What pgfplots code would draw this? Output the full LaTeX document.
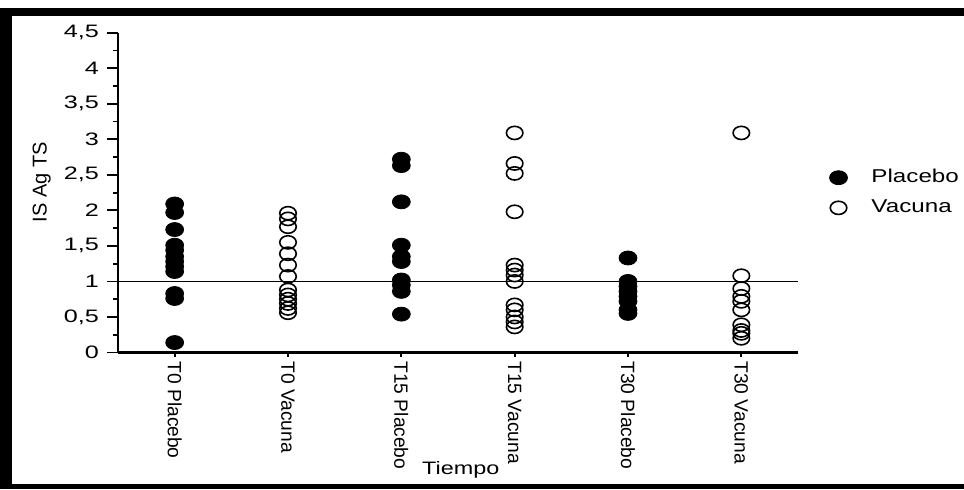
\documentclass[border=0pt]{standalone}
\usepackage{fontspec}
\setmainfont{Liberation Sans}
\newfontfamily\hfont[FakeStretch=1.3]{Liberation Sans}
\newfontfamily\tfont[FakeStretch=1.4]{Liberation Sans}
\usepackage{pgfplots}
\pgfplotsset{compat=1.18}
\begin{document}
\begin{tikzpicture}
\path[use as bounding box] (0,0) rectangle (482pt,244.5pt);
\fill[black] (0,0) rectangle (6pt,240.5pt);
\fill[black] (0,236.5pt) rectangle (482pt,240.5pt);
\fill[black] (0,0) rectangle (482pt,2.5pt);
\begin{axis}[
  at={(59pt,68.25pt)}, anchor=south west,
  scale only axis, width=340pt, height=159.9pt,
  xmin=-0.5, xmax=5.5, ymin=0, ymax=4.5,
  clip=false,
  axis lines*=left,
  axis line style={line width=1.3pt},
  xtick={0,1,2,3,4,5},
  xticklabels={T0 Placebo,T0 Vacuna,T15 Placebo,T15 Vacuna,T30 Placebo,T30 Vacuna},
  xtick style={draw=none},
  xticklabel shift=-4.5pt,
  ytick={0,0.5,...,4.5},
  yticklabels={0,{0,5},1,{1,5},2,{2,5},3,{3,5},4,{4,5}},
  minor y tick num=1,
  tick align=outside,
  major tick length=5.5pt, minor tick length=2.5pt,
  tick style={line width=0.9pt, black},
  every x tick label/.style={rotate=-90, anchor=west, font=\fontsize{9.6}{12}\selectfont},
  every y tick label/.style={anchor=east, font=\tfont\fontsize{9}{11}\selectfont, xshift=-0.5pt},
  xlabel={Tiempo},
  xlabel style={at={(axis description cs:0.504,-0.367)}, anchor=center, font=\hfont\fontsize{9}{10}\selectfont},
  ylabel={IS Ag TS},
  ylabel style={at={(axis description cs:-0.112,0.533)}, anchor=center, rotate=0, font=\fontsize{10}{12}\selectfont},
  legend style={at={(axis description cs:1.037,0.5)}, anchor=west, draw=none, fill=none,
    font=\hfont\fontsize{9.3}{11}\selectfont, row sep=3pt, column sep=10pt},
  legend cell align=left,
]
\addplot[forget plot, black, line width=0.5pt] coordinates {(-0.5,1) (5.5,1)};
\addplot[only marks, mark=*, mark size=3.5pt, mark options={xscale=1.28, fill=black, draw=black}]
coordinates {
(0,2.09) (0,1.97) (0,1.73) (0,1.51) (0,1.44) (0,1.35) (0,1.28) (0,1.21) (0,1.14) (0,0.83) (0,0.76) (0,0.14)
(2,2.72) (2,2.63) (2,2.12) (2,1.51) (2,1.35) (2,1.28) (2,1.02) (2,0.95) (2,0.86) (2,0.54)
(4,1.33) (4,1.00) (4,0.93) (4,0.86) (4,0.79) (4,0.72) (4,0.60) (4,0.55)
};
\addlegendentry{Placebo}
\addplot[only marks, mark=o, mark size=3.3pt, mark options={xscale=1.25, line width=0.8pt, draw=black}]
coordinates {
(1,1.96) (1,1.88) (1,1.77) (1,1.55) (1,1.39) (1,1.23) (1,1.07) (1,0.88) (1,0.81) (1,0.75) (1,0.69) (1,0.62) (1,0.56)
(3,3.09) (3,2.66) (3,2.52) (3,1.98) (3,1.23) (3,1.16) (3,1.09) (3,1.00) (3,0.67) (3,0.60) (3,0.50) (3,0.43) (3,0.36)
(5,3.09) (5,1.08) (5,0.90) (5,0.79) (5,0.72) (5,0.60) (5,0.39) (5,0.31) (5,0.27) (5,0.20)
};
\addlegendentry{Vacuna}
\pgfplotsinvokeforeach{0,...,5}{
  \draw[line width=0.9pt] (axis cs:#1,0) -- ([yshift=-2pt]axis cs:#1,0);
}
\end{axis}
\end{tikzpicture}
\end{document}
